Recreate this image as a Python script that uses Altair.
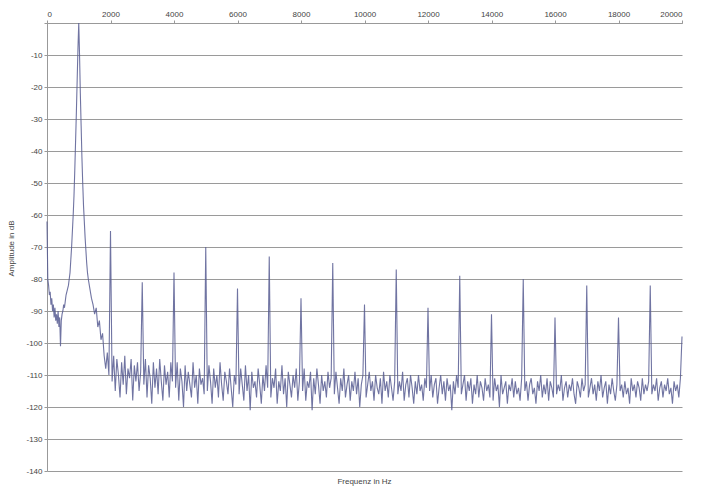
import altair as alt
import pandas as pd

# Low-frequency part incl. fundamental (Hz, dB)
low_hz = [0, 25, 50, 75, 100, 125, 150, 175, 200, 225, 250, 275, 300, 325, 350, 375,
          400, 425, 450, 475, 500, 525, 550, 575, 600, 625, 650, 675, 700, 725, 750,
          775, 800, 825, 850, 875, 900, 925, 950, 975, 1000, 1025, 1050, 1075, 1100,
          1125, 1150, 1175, 1200, 1225, 1250, 1275, 1300, 1350, 1400, 1450, 1500,
          1550, 1600, 1650, 1700, 1750]
low_db = [-62, -80, -82, -85, -84, -88, -86, -90, -88, -92, -89, -93, -91, -94, -90, -95,
          -92, -101, -93, -91, -90, -88, -89, -87, -85, -84, -83, -82, -80, -78, -74,
          -70, -65, -60, -54, -46, -37, -28, -18, -8, 0, -10, -22, -32, -42,
          -50, -57, -62, -67, -71, -75, -78, -80, -83, -86, -88, -91, -89, -95,
          -93, -99, -97]

# Harmonics
harm_hz = [2000, 3000, 4000, 5000, 6000, 7000, 8000, 9000, 10000, 11000,
           12000, 13000, 14000, 15000, 16000, 17000, 18000, 19000, 20000]
harm_db = [-65, -81, -78, -70, -83, -73, -86, -75, -88, -77,
           -89, -79, -91, -80, -92, -82, -92, -82, -98]

# Noise floor from 1800 Hz in 50 Hz bins
noise_db = [
    -104, -108, -103, -110,
    -106, -112, -104, -115, -105, -110, -117, -106, -113, -104, -116, -108, -111, -105, -118, -107, -112, -106, -115, -109,
    -108, -113, -105, -117, -107, -111, -119, -106, -114, -108, -116, -105, -112, -118, -107, -113, -109, -117, -106, -112,
    -110, -114, -106, -118, -108, -112, -120, -107, -115, -109, -113, -117, -106, -114, -110, -119, -108, -113, -111, -116,
    -109, -115, -107, -112, -119, -108, -114, -110, -117, -106, -113, -118, -109, -112, -116, -108, -114, -120, -110, -113,
    -111, -116, -108, -113, -118, -107, -115, -110, -121, -109, -114, -112, -117, -108, -113, -119, -110, -115, -107, -114,
    -109, -117, -111, -114, -108, -119, -112, -115, -107, -116, -111, -120, -109, -113, -117, -110, -114, -108, -118, -112,
    -110, -115, -108, -118, -112, -114, -109, -121, -111, -116, -108, -113, -119, -110, -115, -112, -117, -109, -114, -111,
    -112, -116, -109, -114, -119, -111, -115, -108, -117, -113, -110, -118, -112, -115, -109, -116, -111, -120, -113, -110,
    -111, -117, -113, -109, -115, -112, -118, -110, -114, -116, -111, -119, -109, -115, -112, -117, -110, -114, -118, -112,
    -110, -116, -112, -115, -109, -118, -113, -111, -117, -110, -114, -119, -112, -116, -110, -115, -113, -118, -111, -114,
    -112, -115, -110, -117, -113, -111, -119, -114, -110, -116, -112, -118, -111, -115, -113, -121, -112, -116, -110, -114,
    -111, -116, -113, -110, -118, -112, -115, -111, -119, -113, -116, -110, -117, -112, -114, -118, -111, -115, -113, -117,
    -112, -118, -111, -115, -113, -120, -110, -116, -114, -112, -119, -113, -115, -111, -117, -112, -116, -114, -118, -111,
    -110, -115, -112, -118, -113, -111, -116, -114, -119, -112, -115, -110, -117, -113, -116, -111, -118, -112, -114, -117,
    -111, -116, -113, -115, -110, -118, -114, -112, -117, -113, -115, -111, -116, -119, -112, -114, -117, -111, -115, -113,
    -112, -117, -114, -111, -116, -113, -118, -112, -115, -110, -117, -114, -112, -119, -113, -116, -111, -115, -118, -113,
    -111, -115, -113, -117, -112, -116, -114, -119, -111, -115, -113, -117, -112, -114, -118, -111, -116, -113, -115, -112,
    -110, -116, -113, -115, -111, -118, -114, -112, -117, -113, -115, -111, -116, -114, -119, -112, -115, -113, -117, -111,
    -112,
]

x_ticks = list(range(0, 20001, 2000))
y_ticks = list(range(-140, 1, 10))

rows = [{"f": f, "db": d} for f, d in zip(low_hz, low_db)]
harm = dict(zip(harm_hz, harm_db))
for i, d in enumerate(noise_db):
    f = 1800 + 50 * i
    rows.append({"f": f, "db": harm.get(f, d)})
df = pd.DataFrame(rows)

FONT = "Liberation Sans"

chart = alt.Chart(df).mark_line(
    color="#575c92", strokeWidth=1.1, opacity=0.85
).encode(
    x=alt.X("f:Q", scale=alt.Scale(domain=[0, 20000], nice=False),
            axis=alt.Axis(orient="top", values=x_ticks, title=None, grid=False,
                          format="d",
                          labelFontSize=8, labelFont=FONT, labelColor="#444",
                          domainColor="#999", tickColor="#999", tickSize=3,
                          labelPadding=2)),
    y=alt.Y("db:Q", scale=alt.Scale(domain=[-140, 0], nice=False),
            axis=alt.Axis(values=y_ticks, title="Amplitude in dB",
                          labelExpr="datum.value == 0 ? '' : '' + datum.value",
                          labelFontSize=8, labelFont=FONT, labelColor="#444",
                          titleFontSize=8, titleFont=FONT, titleFontWeight="normal",
                          titleColor="#444", titleX=-32, titleY=225,
                          domainColor="#999", tickColor="#999", tickSize=3,
                          gridColor="#9a9a9a", gridWidth=1, labelPadding=2)),
).properties(
    width=635, height=448,
    autosize="none",
    padding={"left": 39, "top": 15, "right": 15, "bottom": 20},
    title=alt.TitleParams("Frequenz in Hz", orient="bottom", fontSize=8, font=FONT,
                          fontWeight="normal", color="#444", offset=3),
).configure_view(stroke=None)

chart.save("out.html", embed_options={"renderer": "svg", "actions": False})
